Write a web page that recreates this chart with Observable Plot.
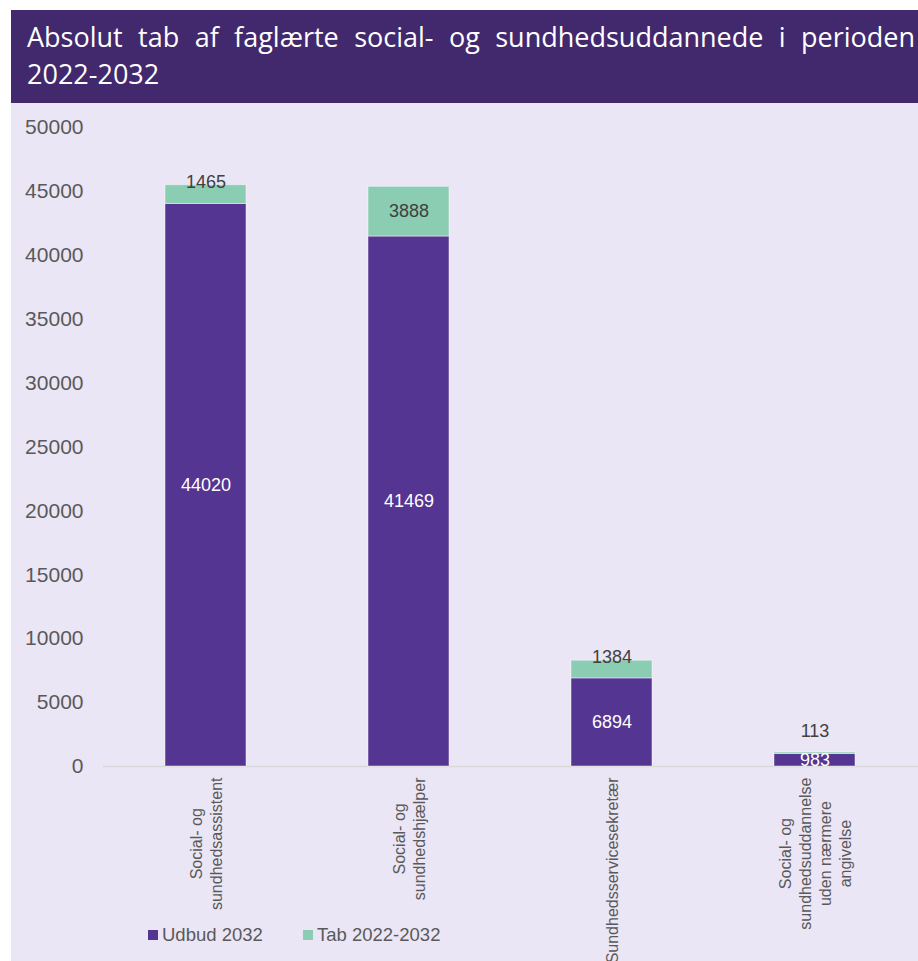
<!DOCTYPE html>
<html>
<head>
<meta charset="utf-8">
<script src="https://cdn.jsdelivr.net/npm/d3@7"></script>
<script src="https://cdn.jsdelivr.net/npm/@observablehq/plot@0.6"></script>
<style>
  html, body { margin: 0; padding: 0; background: #ffffff; }
  body { width: 918px; height: 961px; position: relative; overflow: hidden; font-family: Arial, "Liberation Sans", sans-serif; }
  #band { position: absolute; left: 11px; top: 10px; width: 907px; height: 93px; background: #42296e; }
  #title { position: absolute; left: 16px; top: 8px; width: 888px; color: #ffffff; font-family: "Open Sans", sans-serif; font-size: 27px; line-height: 37px; text-align: justify; }
  #panel { position: absolute; left: 11px; top: 103px; width: 907px; height: 858px; background: #ebe6f5; overflow: hidden; }
  #legend { position: absolute; left: 0; top: 0; width: 907px; height: 858px; pointer-events: none; }
  .li { position: absolute; display: flex; align-items: center; font-size: 18.5px; color: #595959; white-space: nowrap; }
  .sw { width: 10px; height: 10px; margin-right: 4px; }
</style>
</head>
<body>
<div id="band"><div id="title">Absolut tab af faglærte social- og sundhedsuddannede i perioden 2022-2032</div></div>
<div id="panel"><div id="chart"></div><div id="legend"></div></div>
<script>
const categories = [
  "Social- og sundhedsassistent",
  "Social- og sundhedshjælper",
  "Sundhedsservicesekretær",
  "Social- og sundhedsuddannelse uden nærmere angivelse"
];
const categoryLabels = [
  ["Social- og", "sundhedsassistent"],
  ["Social- og", "sundhedshjælper"],
  ["Sundhedsservicesekretær"],
  ["Social- og", "sundhedsuddannelse", "uden nærmere", "angivelse"]
];
const seriesNames = ["Udbud 2032", "Tab 2022-2032"];
const udbud = [44020, 41469, 6894, 983];
const tab = [1465, 3888, 1384, 113];
const yTicks = [0, 5000, 10000, 15000, 20000, 25000, 30000, 35000, 40000, 45000, 50000];
const colors = ["#553592", "#8acdb2"];

const rows = [];
categories.forEach((c, i) => {
  rows.push({cat: c, series: seriesNames[0], value: udbud[i]});
  rows.push({cat: c, series: seriesNames[1], value: tab[i]});
});
const pts = categories.map((c, i) => ({cat: c, i, udbud: udbud[i], tab: tab[i]}));

// measure label widths for centered rotated multi-line labels
const labelSize = 16;
const ctx = document.createElement("canvas").getContext("2d");
ctx.font = labelSize + "px Arial, 'Liberation Sans', sans-serif";
const longest = categoryLabels.map(lines => Math.max(...lines.map(l => ctx.measureText(l).width)));

const labelMarks = categories.map((c, i) =>
  Plot.text([c], {
    x: d => d, y: () => 0,
    text: () => categoryLabels[i].join("\n"),
    rotate: -90, textAnchor: "middle", lineHeight: 1.25,
    fontSize: labelSize, fill: "#595959",
    dy: 11 + longest[i] / 2
  })
);

const chart = Plot.plot({
  width: 907,
  height: 858,
  marginLeft: 92,
  marginRight: 0,
  marginTop: 24,
  marginBottom: 195,
  style: {background: "transparent", fontFamily: "Arial, 'Liberation Sans', sans-serif", overflow: "visible"},
  x: {domain: categories, paddingInner: 0.6, paddingOuter: 0.3, axis: null},
  y: {domain: [0, 50000]},
  color: {domain: seriesNames, range: colors},
  marks: [
    Plot.axisY({ticks: yTicks, tickSize: 0, tickPadding: 20, fontSize: 21, fill: "#595959", label: null, tickFormat: d => String(d)}),
    Plot.ruleY([0], {stroke: "#d9d9d9", strokeWidth: 1.5}),
    Plot.barY(rows, {x: "cat", y: "value", fill: "series", z: "series", stroke: "#ffffff", strokeOpacity: 0.45, strokeWidth: 1}),
    Plot.text(pts, {x: "cat", y: d => d.udbud / 2, text: d => String(d.udbud), fill: "#ffffff", fontSize: 18}),
    Plot.text(pts.filter(d => d.tab >= 2000), {x: "cat", y: d => d.udbud + d.tab / 2, text: d => String(d.tab), fill: "#404040", fontSize: 18}),
    Plot.text(pts.filter(d => d.tab < 2000 && d.udbud >= 2000), {x: "cat", y: d => d.udbud + d.tab, text: d => String(d.tab), fill: "#404040", fontSize: 18, dy: -3}),
    Plot.text(pts.filter(d => d.tab < 2000 && d.udbud < 2000), {x: "cat", y: d => d.udbud + d.tab, text: d => String(d.tab), fill: "#404040", fontSize: 18, dy: -21}),
    ...labelMarks
  ]
});
document.getElementById("chart").appendChild(chart);

// legend
const legend = document.getElementById("legend");
const legendPos = [137, 292];
seriesNames.forEach((s, i) => {
  const el = document.createElement("div");
  el.className = "li";
  el.style.left = legendPos[i] + "px";
  el.style.top = "821px";
  el.style.height = "22px";
  el.innerHTML = `<span class="sw" style="background:${colors[i]}"></span><span>${s}</span>`;
  legend.appendChild(el);
});
</script>
</body>
</html>
